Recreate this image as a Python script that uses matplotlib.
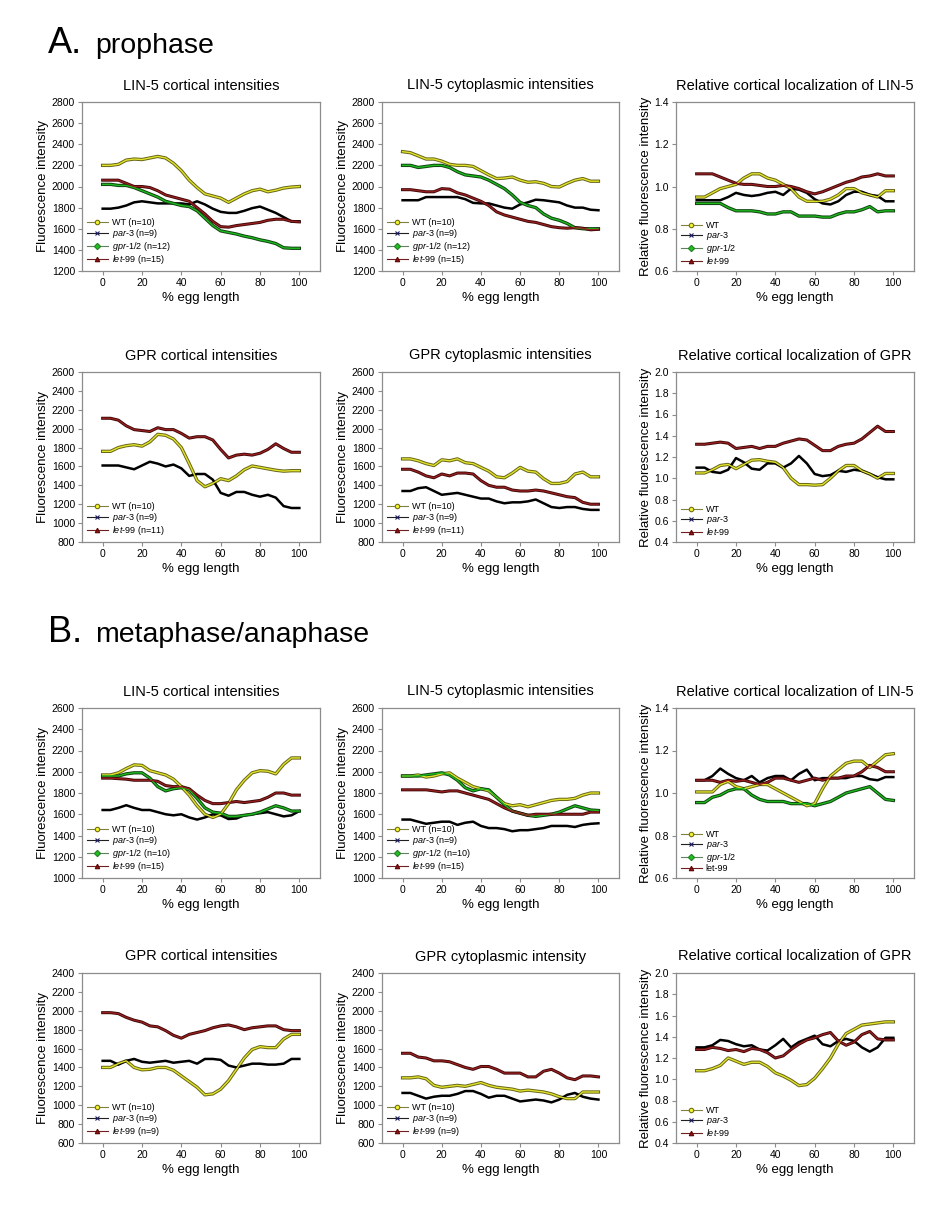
import matplotlib
matplotlib.use("Agg")
import matplotlib.pyplot as plt
from matplotlib.lines import Line2D
import numpy as np

plt.rcParams['font.family'] = ['Liberation Sans', 'DejaVu Sans']
plt.rcParams['mathtext.fontset'] = 'custom'
plt.rcParams['mathtext.it'] = 'Liberation Sans:italic'
plt.rcParams['mathtext.rm'] = 'Liberation Sans'

# === DATA (every 4 % of egg length) ===
egg_pct = [0, 4, 8, 12, 16, 20, 24, 28, 32, 36, 40, 44, 48, 52, 56, 60, 64, 68, 72, 76, 80, 84, 88, 92, 96, 100]

# A. prophase - LIN-5 cortical
a_lin5_cort_wt = [2200, 2200, 2210, 2250, 2260, 2255, 2270, 2285, 2270, 2220, 2150, 2060, 1990, 1930, 1910, 1890, 1850, 1890, 1930, 1960, 1975, 1950, 1965, 1985, 1995, 2000]
a_lin5_cort_par3 = [1790, 1790, 1800, 1820, 1850, 1860, 1850, 1840, 1840, 1840, 1840, 1830, 1860, 1830, 1790, 1760, 1750, 1750, 1770, 1795, 1810, 1780, 1750, 1710, 1670, 1670]
a_lin5_cort_gpr = [2020, 2020, 2010, 2010, 1990, 1960, 1930, 1900, 1860, 1840, 1820, 1810, 1770, 1700, 1630, 1580, 1565, 1550, 1530, 1515, 1495, 1480, 1460, 1420, 1415, 1415]
a_lin5_cort_let99 = [2060, 2060, 2060, 2030, 2000, 2000, 1990, 1960, 1920, 1900, 1880, 1860, 1800, 1740, 1670, 1620, 1615, 1630, 1640, 1650, 1660, 1680, 1690, 1690, 1670, 1665]

# A. prophase - LIN-5 cytoplasmic
a_lin5_cyto_wt = [2330, 2320, 2290, 2260, 2260, 2240, 2210, 2200, 2200, 2190, 2150, 2110, 2075, 2080, 2090, 2060, 2040, 2045, 2030, 2000, 1995, 2030, 2060, 2075, 2050, 2050]
a_lin5_cyto_par3 = [1870, 1870, 1870, 1900, 1900, 1900, 1900, 1900, 1880, 1845, 1840, 1840, 1820, 1800, 1790, 1830, 1850, 1875, 1870, 1860, 1850, 1820, 1800, 1800, 1780, 1775]
a_lin5_cyto_gpr = [2200, 2200, 2180, 2190, 2200, 2200, 2180, 2140, 2110, 2100, 2090, 2060, 2020, 1980, 1920, 1850, 1820, 1800, 1740, 1700, 1680, 1650, 1610, 1600, 1600, 1600]
a_lin5_cyto_let99 = [1970, 1970, 1960, 1950, 1950, 1980, 1975, 1940, 1920, 1890, 1860, 1820, 1760, 1730, 1710, 1690, 1670, 1660, 1640, 1620, 1610, 1605, 1610, 1605, 1590, 1595]

# A. prophase - relative cortical LIN-5
a_lin5_rel_wt = [0.95, 0.95, 0.97, 0.99, 1.00, 1.01, 1.04, 1.06, 1.06, 1.04, 1.03, 1.01, 0.99, 0.95, 0.93, 0.93, 0.93, 0.94, 0.96, 0.99, 0.99, 0.97, 0.96, 0.95, 0.98, 0.98]
a_lin5_rel_par3 = [0.935, 0.935, 0.935, 0.935, 0.95, 0.97, 0.96, 0.955, 0.96, 0.97, 0.975, 0.96, 0.99, 0.985, 0.97, 0.94, 0.92, 0.915, 0.93, 0.96, 0.975, 0.975, 0.96, 0.955, 0.93, 0.93]
a_lin5_rel_gpr = [0.92, 0.92, 0.92, 0.92, 0.90, 0.885, 0.885, 0.885, 0.88, 0.87, 0.87, 0.88, 0.88, 0.86, 0.86, 0.86, 0.855, 0.855, 0.87, 0.88, 0.88, 0.89, 0.905, 0.88, 0.885, 0.885]
a_lin5_rel_let99 = [1.06, 1.06, 1.06, 1.045, 1.03, 1.015, 1.01, 1.01, 1.005, 1.0, 1.0, 1.005, 1.0, 0.99, 0.975, 0.965, 0.975, 0.99, 1.005, 1.02, 1.03, 1.045, 1.05, 1.06, 1.05, 1.05]

# A. prophase - GPR cortical
a_gpr_cort_wt = [1760, 1760, 1800, 1820, 1830, 1815, 1860, 1940, 1930, 1890, 1800, 1630, 1450, 1385, 1420, 1470, 1450, 1500, 1565, 1605, 1590, 1575, 1560, 1550, 1555, 1555]
a_gpr_cort_par3 = [1610, 1610, 1610, 1590, 1570, 1610, 1650, 1630, 1600, 1620, 1580, 1500, 1520, 1520, 1460, 1320, 1290, 1330, 1330, 1300, 1280, 1300, 1270, 1180, 1160, 1160]
a_gpr_cort_let99 = [2110, 2110, 2090, 2030, 1990, 1980, 1970, 2010, 1990, 1990, 1950, 1900, 1915, 1915, 1880, 1780, 1690, 1720, 1730, 1720, 1740, 1780, 1840, 1790, 1750, 1750]

# A. prophase - GPR cytoplasmic
a_gpr_cyto_wt = [1680, 1680, 1660, 1630, 1610, 1670, 1660, 1680, 1640, 1630, 1590, 1550, 1490, 1480, 1530, 1590, 1550, 1540, 1470, 1420, 1420, 1440, 1520, 1540, 1490, 1490]
a_gpr_cyto_par3 = [1340, 1340, 1370, 1380, 1340, 1300, 1310, 1320, 1300, 1280, 1260, 1260, 1230, 1210, 1220, 1220, 1230, 1250, 1210, 1170, 1160, 1170, 1170, 1150, 1140, 1140]
a_gpr_cyto_let99 = [1570, 1570, 1540, 1500, 1480, 1520, 1500, 1530, 1530, 1520, 1450, 1400, 1380, 1380, 1350, 1340, 1340, 1350, 1340, 1320, 1300, 1280, 1270, 1220, 1200, 1200]

# A. prophase - relative cortical GPR
a_gpr_rel_wt = [1.05, 1.05, 1.08, 1.12, 1.13, 1.09, 1.13, 1.17, 1.175, 1.16, 1.15, 1.10, 1.00, 0.94, 0.94, 0.935, 0.94, 1.00, 1.07, 1.12, 1.12, 1.07, 1.04, 1.00, 1.045, 1.045]
a_gpr_rel_par3 = [1.10, 1.10, 1.06, 1.05, 1.08, 1.19, 1.15, 1.09, 1.08, 1.14, 1.14, 1.10, 1.14, 1.21, 1.14, 1.04, 1.02, 1.03, 1.07, 1.06, 1.08, 1.07, 1.04, 1.01, 0.99, 0.99]
a_gpr_rel_let99 = [1.32, 1.32, 1.33, 1.34, 1.33, 1.28, 1.29, 1.30, 1.28, 1.30, 1.30, 1.33, 1.35, 1.37, 1.36, 1.31, 1.26, 1.26, 1.30, 1.32, 1.33, 1.37, 1.43, 1.49, 1.44, 1.44]

# B. metaphase/anaphase - LIN-5 cortical
b_lin5_cort_wt = [1970, 1970, 1990, 2030, 2065, 2060, 2010, 1990, 1970, 1930, 1860, 1780, 1680, 1600, 1570, 1600, 1700, 1830, 1920, 1990, 2010, 2005, 1980, 2070, 2130, 2130]
b_lin5_cort_par3 = [1640, 1640, 1660, 1685, 1660, 1640, 1640, 1620, 1600, 1590, 1600, 1570, 1550, 1570, 1600, 1590, 1555, 1560, 1590, 1600, 1610, 1620, 1600, 1580, 1590, 1630]
b_lin5_cort_gpr = [1960, 1960, 1960, 1980, 1990, 1990, 1940, 1860, 1820, 1840, 1850, 1830, 1750, 1660, 1620, 1610, 1580, 1580, 1590, 1600, 1620, 1650, 1680, 1660, 1630, 1630]
b_lin5_cort_let99 = [1940, 1940, 1935, 1930, 1920, 1920, 1920, 1910, 1870, 1860, 1860, 1840, 1780, 1730, 1700, 1700, 1710, 1720, 1710, 1720, 1730, 1760, 1800, 1800, 1780, 1780]

# B. metaphase/anaphase - LIN-5 cytoplasmic
b_lin5_cyto_wt = [1960, 1960, 1970, 1950, 1960, 1980, 1990, 1940, 1900, 1860, 1840, 1820, 1760, 1700, 1680, 1690, 1670, 1690, 1710, 1730, 1740, 1740, 1750, 1780, 1800, 1800]
b_lin5_cyto_par3 = [1550, 1550, 1530, 1510, 1520, 1530, 1530, 1500, 1520, 1530, 1490, 1470, 1470, 1460, 1440, 1450, 1450, 1460, 1470, 1490, 1490, 1490, 1480, 1500, 1510, 1515]
b_lin5_cyto_gpr = [1960, 1960, 1960, 1970, 1980, 1990, 1970, 1920, 1850, 1820, 1840, 1830, 1760, 1690, 1630, 1610, 1590, 1580, 1590, 1600, 1620, 1650, 1680, 1660, 1640, 1635]
b_lin5_cyto_let99 = [1830, 1830, 1830, 1830, 1820, 1810, 1820, 1820, 1800, 1780, 1760, 1740, 1700, 1660, 1630, 1610, 1590, 1600, 1600, 1600, 1600, 1600, 1600, 1600, 1620, 1620]

# B. metaphase/anaphase - relative cortical LIN-5
b_lin5_rel_wt = [1.005, 1.005, 1.005, 1.04, 1.055, 1.03, 1.02, 1.03, 1.04, 1.04, 1.02, 1.00, 0.98, 0.96, 0.94, 0.95, 1.02, 1.08, 1.11, 1.14, 1.15, 1.15, 1.12, 1.15, 1.18, 1.185]
b_lin5_rel_par3 = [1.06, 1.06, 1.08, 1.115, 1.09, 1.07, 1.06, 1.08, 1.05, 1.07, 1.08, 1.08, 1.06, 1.09, 1.11, 1.06, 1.07, 1.07, 1.07, 1.07, 1.08, 1.08, 1.065, 1.06, 1.075, 1.075]
b_lin5_rel_gpr = [0.955, 0.955, 0.98, 0.99, 1.01, 1.02, 1.02, 0.99, 0.97, 0.96, 0.96, 0.96, 0.95, 0.95, 0.95, 0.94, 0.95, 0.96, 0.98, 1.00, 1.01, 1.02, 1.03, 1.00, 0.97, 0.965]
b_lin5_rel_let99 = [1.06, 1.06, 1.06, 1.05, 1.06, 1.055, 1.06, 1.05, 1.04, 1.05, 1.07, 1.07, 1.06, 1.05, 1.06, 1.07, 1.06, 1.07, 1.07, 1.08, 1.08, 1.10, 1.13, 1.12, 1.10, 1.10]

# B. metaphase/anaphase - GPR cortical
b_gpr_cort_wt = [1400, 1400, 1440, 1470, 1400, 1375, 1380, 1400, 1400, 1370, 1310, 1250, 1190, 1110, 1120, 1170, 1260, 1380, 1500, 1590, 1620, 1610, 1610, 1700, 1750, 1750]
b_gpr_cort_par3 = [1470, 1470, 1430, 1470, 1490, 1460, 1450, 1460, 1470, 1450, 1460, 1470, 1440, 1490, 1490, 1480, 1420, 1400, 1420, 1440, 1440, 1430, 1430, 1440, 1490, 1490]
b_gpr_cort_let99 = [1980, 1980, 1970, 1930, 1900, 1880, 1840, 1830, 1790, 1740, 1710, 1750, 1770, 1790, 1820, 1840, 1850, 1830, 1800, 1820, 1830, 1840, 1840, 1800, 1790, 1790]

# B. metaphase/anaphase - GPR cytoplasmic
b_gpr_cyto_wt = [1290, 1290, 1300, 1280, 1210, 1190, 1200, 1210, 1200, 1220, 1240, 1210, 1190, 1180, 1170, 1150, 1160, 1150, 1140, 1120, 1090, 1070, 1070, 1140, 1140, 1140]
b_gpr_cyto_par3 = [1130, 1130, 1100, 1070, 1090, 1100, 1100, 1120, 1150, 1150, 1120, 1080, 1100, 1100, 1070, 1040, 1050, 1060, 1050, 1030, 1060, 1110, 1130, 1090, 1070, 1060]
b_gpr_cyto_let99 = [1550, 1550, 1510, 1500, 1470, 1470, 1460, 1430, 1400, 1380, 1410, 1410, 1380, 1340, 1340, 1340, 1300, 1300, 1360, 1380, 1340, 1290, 1270, 1310, 1310, 1300]

# B. metaphase/anaphase - relative cortical GPR
b_gpr_rel_wt = [1.08, 1.08, 1.10, 1.13, 1.20, 1.17, 1.14, 1.16, 1.16, 1.12, 1.06, 1.03, 0.99, 0.94, 0.95, 1.01, 1.10, 1.20, 1.33, 1.43, 1.47, 1.51, 1.52, 1.53, 1.54, 1.54]
b_gpr_rel_par3 = [1.30, 1.30, 1.32, 1.37, 1.36, 1.33, 1.31, 1.32, 1.28, 1.27, 1.32, 1.38, 1.30, 1.35, 1.38, 1.41, 1.33, 1.31, 1.36, 1.38, 1.36, 1.30, 1.26, 1.30, 1.39, 1.39]
b_gpr_rel_let99 = [1.28, 1.28, 1.30, 1.29, 1.27, 1.28, 1.26, 1.29, 1.28, 1.25, 1.20, 1.22, 1.28, 1.33, 1.37, 1.39, 1.42, 1.44, 1.36, 1.32, 1.35, 1.42, 1.45, 1.38, 1.37, 1.37]

# === STYLES ===
styles = {
    'WT':      dict(edge='#66661a', fill='#e2e22a', lw=(2.4, 1.0), marker='o', mfc='#f4f430', mec='#707010', lcol='#808040'),
    'par-3':   dict(edge='#000000', fill=None, lw=(1.8, 0), marker='x', mfc='#1a1a60', mec='#1a1a60', lcol='#202020'),
    'gpr-1/2': dict(edge='#124412', fill='#1cb81c', lw=(2.4, 1.0), marker='D', mfc='#20c020', mec='#208020', lcol='#608060'),
    'let-99':  dict(edge='#400808', fill='#9a2020', lw=(2.2, 0.9), marker='^', mfc='#901818', mec='#600000', lcol='#702020'),
}


def make_label(name, n, italic=True):
    if name == 'WT' or not italic:
        s = name
    else:
        s = '-'.join(r'$\mathit{%s}$' % p for p in name.split('-'))
    if n is not None:
        s += ' (n=%d)' % n
    return s


W, H = 950, 1208
col_px = [(82, 320), (382, 619), (676, 914)]
row_px = [(102, 271), (372, 542), (708, 878), (973, 1143)]

y_fl = 'Fluorescence intensity'
y_rel = 'Relative fluorescence intensity'

panels = [
    (0, 0, 'LIN-5 cortical intensities', y_fl, (1200, 2800), 200,
     [('WT', 10, a_lin5_cort_wt), ('par-3', 9, a_lin5_cort_par3), ('gpr-1/2', 12, a_lin5_cort_gpr), ('let-99', 15, a_lin5_cort_let99)]),
    (0, 1, 'LIN-5 cytoplasmic intensities', y_fl, (1200, 2800), 200,
     [('WT', 10, a_lin5_cyto_wt), ('par-3', 9, a_lin5_cyto_par3), ('gpr-1/2', 12, a_lin5_cyto_gpr), ('let-99', 15, a_lin5_cyto_let99)]),
    (0, 2, 'Relative cortical localization of LIN-5', y_rel, (0.6, 1.4), 0.2,
     [('WT', None, a_lin5_rel_wt), ('par-3', None, a_lin5_rel_par3), ('gpr-1/2', None, a_lin5_rel_gpr), ('let-99', None, a_lin5_rel_let99)]),
    (1, 0, 'GPR cortical intensities', y_fl, (800, 2600), 200,
     [('WT', 10, a_gpr_cort_wt), ('par-3', 9, a_gpr_cort_par3), ('let-99', 11, a_gpr_cort_let99)]),
    (1, 1, 'GPR cytoplasmic intensities', y_fl, (800, 2600), 200,
     [('WT', 10, a_gpr_cyto_wt), ('par-3', 9, a_gpr_cyto_par3), ('let-99', 11, a_gpr_cyto_let99)]),
    (1, 2, 'Relative cortical localization of GPR', y_rel, (0.4, 2.0), 0.2,
     [('WT', None, a_gpr_rel_wt), ('par-3', None, a_gpr_rel_par3), ('let-99', None, a_gpr_rel_let99)]),
    (2, 0, 'LIN-5 cortical intensities', y_fl, (1000, 2600), 200,
     [('WT', 10, b_lin5_cort_wt), ('par-3', 9, b_lin5_cort_par3), ('gpr-1/2', 10, b_lin5_cort_gpr), ('let-99', 15, b_lin5_cort_let99)]),
    (2, 1, 'LIN-5 cytoplasmic intensities', y_fl, (1000, 2600), 200,
     [('WT', 10, b_lin5_cyto_wt), ('par-3', 9, b_lin5_cyto_par3), ('gpr-1/2', 10, b_lin5_cyto_gpr), ('let-99', 15, b_lin5_cyto_let99)]),
    (2, 2, 'Relative cortical localization of LIN-5', y_rel, (0.6, 1.4), 0.2,
     [('WT', None, b_lin5_rel_wt), ('par-3', None, b_lin5_rel_par3), ('gpr-1/2', None, b_lin5_rel_gpr), ('let-99', None, b_lin5_rel_let99)]),
    (3, 0, 'GPR cortical intensities', y_fl, (600, 2400), 200,
     [('WT', 10, b_gpr_cort_wt), ('par-3', 9, b_gpr_cort_par3), ('let-99', 9, b_gpr_cort_let99)]),
    (3, 1, 'GPR cytoplasmic intensity', y_fl, (600, 2400), 200,
     [('WT', 10, b_gpr_cyto_wt), ('par-3', 9, b_gpr_cyto_par3), ('let-99', 9, b_gpr_cyto_let99)]),
    (3, 2, 'Relative cortical localization of GPR', y_rel, (0.4, 2.0), 0.2,
     [('WT', None, b_gpr_rel_wt), ('par-3', None, b_gpr_rel_par3), ('let-99', None, b_gpr_rel_let99)]),
]

fig = plt.figure(figsize=(W / 100, H / 100), dpi=100)
fig.patch.set_facecolor('white')

# section headers
fig.text(48 / W, 1 - 53 / H, 'A.', fontsize=26, ha='left', va='baseline')
fig.text(95 / W, 1 - 53 / H, 'prophase', fontsize=20.5, ha='left', va='baseline')
fig.text(48 / W, 1 - 642 / H, 'B.', fontsize=26, ha='left', va='baseline')
fig.text(95 / W, 1 - 642 / H, 'metaphase/anaphase', fontsize=20.5, ha='left', va='baseline')

for r, c, title, ylab, ylim, ystep, series in panels:
    x0, x1 = col_px[c]
    y0, y1 = row_px[r]
    ax = fig.add_axes([x0 / W, 1 - y1 / H, (x1 - x0) / W, (y1 - y0) / H])
    handles = []
    for name, n, vals in series:
        st = styles[name]
        ax.plot(egg_pct, vals, color=st['edge'], lw=st['lw'][0], zorder=2)
        if st['fill']:
            ax.plot(egg_pct, vals, color=st['fill'], lw=st['lw'][1], zorder=3)
        italic = not (r == 2 and c == 2 and name == 'let-99')
        handles.append(Line2D([], [], color=st['lcol'], lw=0.8, marker=st['marker'],
                              ms=3.2, mfc=st['mfc'], mec=st['mec'], mew=0.8,
                              label=make_label(name, n, italic)))
    ax.set_xlim(-10.5, 110.5)
    ax.set_ylim(*ylim)
    ax.set_xticks([0, 20, 40, 60, 80, 100])
    yt = np.arange(ylim[0], ylim[1] + ystep / 2, ystep)
    ax.set_yticks(yt)
    if ystep < 1:
        ax.set_yticklabels(['%.1f' % v for v in yt])
    for sp in ax.spines.values():
        sp.set_color('#8c8c8c')
        sp.set_linewidth(0.9)
    ax.tick_params(direction='out', length=3, width=0.8, color='#8c8c8c',
                   labelsize=7.5, pad=2)
    ax.set_title(title, fontsize=10.5, pad=9)
    ax.set_xlabel('% egg length', fontsize=9.5, labelpad=3)
    ax.set_ylabel(ylab, fontsize=9.5, labelpad=2)
    ax.legend(handles=handles, loc='lower left', frameon=False, fontsize=6.5,
              handlelength=2.4, handletextpad=0.4, labelspacing=0.0,
              borderaxespad=0.3, borderpad=0.2, numpoints=1)

fig.savefig('out.png', dpi=100)
